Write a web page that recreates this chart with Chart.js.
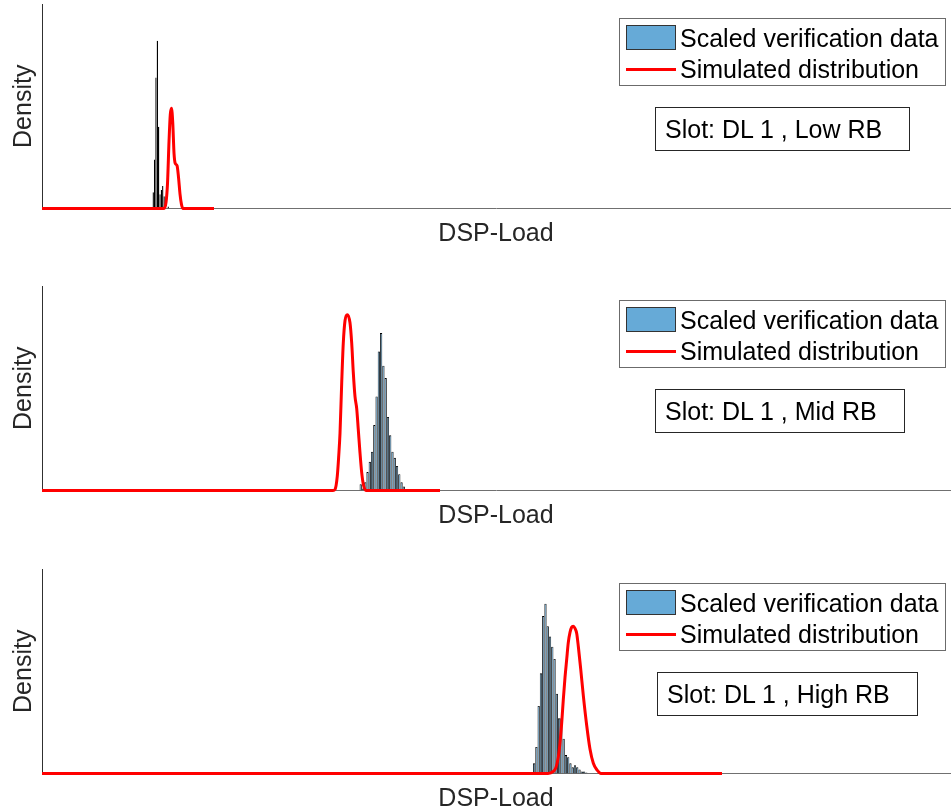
<!DOCTYPE html>
<html>
<head>
<meta charset="utf-8">
<script src="https://cdn.jsdelivr.net/npm/chart.js@4.4.1/dist/chart.umd.min.js"></script>
<style>
  html, body { margin: 0; padding: 0; background: #fff; }
  body { width: 951px; height: 812px; position: relative; overflow: hidden;
         font-family: "Liberation Sans", Arial, Helvetica, sans-serif; }
  .panel { position: absolute; left: 0; width: 951px; height: 283px; }
  .panel canvas { position: absolute; left: 0; top: 0; }
  .legend-box { position: absolute; left: 619px; top: 18px; width: 327px; height: 68px;
                border: 1px solid #6b6b6b; background: #fff; box-sizing: border-box; }
  .legend-text { position: absolute; left: 680px; font-size: 25px; line-height: 31px;
                 color: #000; white-space: nowrap; }
  .legend-patch { position: absolute; left: 626px; width: 50px; height: 25px;
                  box-sizing: border-box; border: 1px solid #333; }
  .legend-line { position: absolute; left: 626px; width: 50px; height: 3px; }
  .note { position: absolute; top: 107px; height: 44px; box-sizing: border-box;
          border: 1px solid #262626; background: #fff; font-size: 25px; line-height: 42px;
          padding: 0 27px 0 9px; color: #000; white-space: nowrap; }
</style>
</head>
<body>
<script>
// Scaled verification data (histogram bin centres and densities) and
// simulated distribution curves for the three resource-block cases.
const LOW_BIN_X = [12.25, 12.40, 12.55, 12.70, 12.85, 13.00, 13.15, 13.30, 13.45, 13.60, 13.75, 13.90];
const LOW_BIN_Y = [0.08, 0.24, 0.64, 0.82, 0.40, 0.07, 0.09, 0.11, 0.06, 0.02, 0.00, 0.01];
const LOW_SIM_X = [0, 13.44, 13.66, 13.82, 13.99, 14.13, 14.26, 14.40, 14.54, 14.68, 14.87, 15.04, 15.20, 15.36, 15.53, 18.94];
const LOW_SIM_Y = [0, 0, 0.03, 0.12, 0.33, 0.46, 0.49, 0.42, 0.27, 0.22, 0.21, 0.15, 0.07, 0.02, 0, 0];

const MID_BIN_X = [35.10, 35.35, 35.60, 35.85, 36.10, 36.35, 36.60, 36.85, 37.10, 37.35,
                   37.60, 37.85, 38.10, 38.35, 38.60, 38.85, 39.10, 39.35, 39.60, 39.85];
const MID_BIN_Y = [0.03, 0.01, 0.04, 0.09, 0.14, 0.19, 0.32, 0.46, 0.68, 0.77,
                   0.61, 0.55, 0.36, 0.27, 0.19, 0.16, 0.12, 0.08, 0.04, 0.02];
const MID_SIM_X = [0, 32.05, 32.27, 32.52, 32.68, 32.82, 33.01, 33.18, 33.37, 33.62, 33.92,
                   34.11, 34.28, 34.47, 34.66, 34.83, 35.02, 35.21, 35.39, 35.68, 43.83];
const MID_SIM_Y = [0, 0, 0.005, 0.07, 0.17, 0.28, 0.53, 0.72, 0.83, 0.86, 0.82,
                   0.72, 0.58, 0.46, 0.40, 0.30, 0.185, 0.087, 0.03, 0, 0];

const HIGH_BIN_X = [54.20, 54.45, 54.70, 54.95, 55.20, 55.45, 55.70, 55.95, 56.20, 56.45, 56.70, 56.95,
                    57.20, 57.45, 57.70, 57.95, 58.20, 58.45, 58.70, 58.95, 59.20, 59.45, 59.70, 59.95];
const HIGH_BIN_Y = [0.05, 0.13, 0.33, 0.49, 0.77, 0.83, 0.72, 0.67, 0.62, 0.56, 0.39, 0.27,
                    0.27, 0.17, 0.09, 0.08, 0.05, 0.03, 0.04, 0.03, 0.02, 0.01, 0.01, 0.005];
const HIGH_SIM_X = [0, 55.73, 56.31, 56.61, 56.86, 57.05, 57.24, 57.41, 57.60, 57.79, 57.96, 58.15, 58.33,
                    58.51, 58.70, 58.89, 59.07, 59.33, 59.62, 59.99, 60.35, 60.72, 61.16, 61.56, 74.89];
const HIGH_SIM_Y = [0, 0, 0.01, 0.03, 0.08, 0.15, 0.25, 0.36, 0.47, 0.56, 0.64, 0.69, 0.715,
                    0.72, 0.71, 0.685, 0.62, 0.51, 0.38, 0.235, 0.12, 0.05, 0.015, 0, 0];

const SERIES_NAMES = ['Scaled verification data', 'Simulated distribution'];
const SLOT_LABELS = ['Slot: DL 1 , Low RB', 'Slot: DL 1 , Mid RB', 'Slot: DL 1 , High RB'];
const X_TITLE = 'DSP-Load';
const Y_TITLE = 'Density';

const HIST_FILL = '#66AAD7';
const SIM_COLOR = '#FF0000';
const FONT_FAMILY = "'Liberation Sans', Arial, Helvetica, sans-serif";

const panels = [
  { top: 0,   binX: LOW_BIN_X,  binY: LOW_BIN_Y,  simX: LOW_SIM_X,  simY: LOW_SIM_Y,  note: SLOT_LABELS[0], noteLeft: 655 },
  { top: 282, binX: MID_BIN_X,  binY: MID_BIN_Y,  simX: MID_SIM_X,  simY: MID_SIM_Y,  note: SLOT_LABELS[1], noteLeft: 655 },
  { top: 565, binX: HIGH_BIN_X, binY: HIGH_BIN_Y, simX: HIGH_SIM_X, simY: HIGH_SIM_Y, note: SLOT_LABELS[2], noteLeft: 657 }
];

const toPoints = (xs, ys) => xs.map((x, i) => ({ x: x, y: ys[i] }));

Chart.defaults.font.family = FONT_FAMILY;

panels.forEach(p => {
  const wrap = document.createElement('div');
  wrap.className = 'panel';
  wrap.style.top = p.top + 'px';
  document.body.appendChild(wrap);

  const canvas = document.createElement('canvas');
  canvas.width = 951;
  canvas.height = 283;
  canvas.style.width = '951px';
  canvas.style.height = '283px';
  wrap.appendChild(canvas);

  const titleFont = { family: FONT_FAMILY, size: 25, weight: 'normal' };

  const chart = new Chart(canvas, {
    type: 'bar',
    data: {
      datasets: [
        {
          type: 'line',
          label: SERIES_NAMES[1],
          data: toPoints(p.simX, p.simY),
          borderColor: SIM_COLOR,
          borderWidth: 3,
          pointRadius: 0,
          fill: false,
          cubicInterpolationMode: 'monotone',
          clip: false,
          order: 0
        },
        {
          type: 'bar',
          label: SERIES_NAMES[0],
          data: toPoints(p.binX, p.binY),
          backgroundColor: HIST_FILL,
          borderColor: '#000000',
          borderWidth: 0.85,
          inflateAmount: 0,
          barPercentage: 1,
          categoryPercentage: 1,
          order: 1
        }
      ]
    },
    options: {
      responsive: false,
      animation: false,
      devicePixelRatio: 1,
      layout: { padding: { top: 4, right: 1, left: 0, bottom: 33.5 } },
      plugins: { legend: { display: false }, tooltip: { enabled: false } },
      scales: {
        x: {
          type: 'linear', min: 0, max: 100, offset: false,
          grid: { display: false, drawTicks: false },
          ticks: { display: false },
          border: { display: true, color: '#707070', width: 1 },
          title: { display: true, text: X_TITLE, color: '#262626', font: titleFont,
                   padding: { top: 11, bottom: 0 } }
        },
        y: {
          type: 'linear', min: 0, max: 1,
          grid: { display: false, drawTicks: false },
          ticks: { display: false },
          border: { display: true, color: '#303030', width: 1 },
          title: { display: true, text: Y_TITLE, color: '#262626', font: titleFont,
                   padding: { top: 9, bottom: 3 } }
        }
      }
    }
  });

  // Legend built from the chart's own datasets
  const box = document.createElement('div');
  box.className = 'legend-box';
  wrap.appendChild(box);

  const barSet = chart.data.datasets[1];
  const lineSet = chart.data.datasets[0];

  const patch = document.createElement('div');
  patch.className = 'legend-patch';
  patch.style.top = '25px';
  patch.style.background = barSet.backgroundColor;
  wrap.appendChild(patch);

  const t1 = document.createElement('div');
  t1.className = 'legend-text';
  t1.style.top = '22.5px';
  t1.textContent = barSet.label;
  wrap.appendChild(t1);

  const line = document.createElement('div');
  line.className = 'legend-line';
  line.style.top = '67.5px';
  line.style.background = lineSet.borderColor;
  wrap.appendChild(line);

  const t2 = document.createElement('div');
  t2.className = 'legend-text';
  t2.style.top = '53.5px';
  t2.textContent = lineSet.label;
  wrap.appendChild(t2);

  const note = document.createElement('div');
  note.className = 'note';
  note.style.left = p.noteLeft + 'px';
  note.textContent = p.note;
  wrap.appendChild(note);
});
</script>
</body>
</html>
